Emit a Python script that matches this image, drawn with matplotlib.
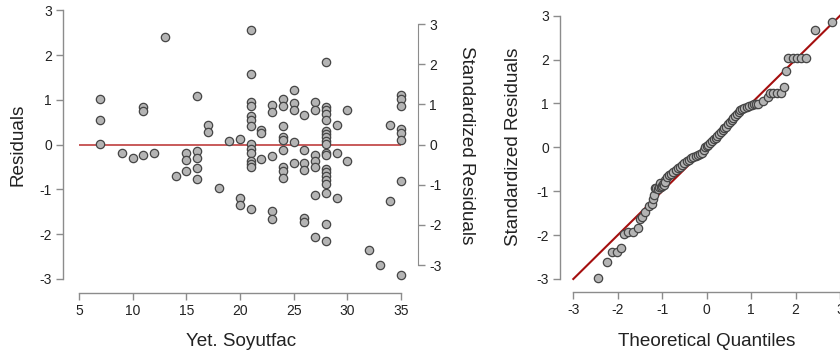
import matplotlib
matplotlib.use("Agg")
import matplotlib.pyplot as plt

plt.rcParams['font.family'] = ['Liberation Sans', 'DejaVu Sans']
plt.rcParams['axes.unicode_minus'] = False

# ---------------- data: residuals vs Yet. Soyutfac ----------------
res_x = ([7]*3 + [9] + [10] + [11]*3 + [12] + [13] + [14] + [15]*3 + [16]*5 + [17]*2 + [18] + [19]
         + [20]*3 + [21]*14 + [22]*3 + [23]*5 + [24]*9 + [25]*5 + [26]*6 + [27]*7 + [28]*20
         + [29]*3 + [30]*2 + [32] + [33] + [34]*2 + [35]*8)
res_y = [1.02, 0.56, 0.02,
         -0.19,
         -0.29,
         0.84, 0.75, -0.24,
         -0.19,
         2.40,
         -0.70,
         -0.19, -0.35, -0.58,
         1.08, -0.14, -0.29, -0.53, -0.76,
         0.44, 0.29,
         -0.97,
         0.08,
         0.13, -1.19, -1.34,
         2.57, 1.57, 0.95, 0.87, 0.63, 0.56, 0.41, 0.02, -0.09, -0.19, -0.36, -0.44, -0.51, -1.44,
         0.32, 0.25, -0.31,
         0.89, 0.74, -0.26, -1.49, -1.66,
         1.02, 0.86, 0.41, 0.17, 0.10, -0.13, -0.50, -0.59, -0.75,
         1.23, 0.92, 0.77, 0.07, -0.40,
         0.66, -0.11, -0.41, -0.57, -1.63, -1.73,
         0.95, 0.78, -0.22, -0.37, -0.51, -1.13, -2.07,
         1.84, 0.84, 0.77, 0.68, 0.54, 0.30, 0.23, 0.16, 0.08, 0.01, -0.19, -0.24, -0.54, -0.61,
         -0.69, -0.78, -0.87, -1.08, -1.78, -2.16,
         0.43, -0.19, -1.19,
         0.78, -0.37,
         -2.36,
         -2.69,
         0.44, -1.26,
         1.10, 1.01, 0.87, 0.34, 0.25, 0.10, -0.82, -2.90]

left_xticks = [5, 10, 15, 20, 25, 30, 35]
left_yticks = [-3, -2, -1, 0, 1, 2, 3]
std_yticks = [-3, -2, -1, 0, 1, 2, 3]

# ---------------- data: Q-Q plot ----------------
qq_theo = [-2.44, -2.25, -2.12, -2.01, -1.92, -1.85, -1.76, -1.65, -1.55, -1.49, -1.46, -1.39,
           -1.29, -1.24, -1.20, -1.18, -1.16, -1.13, -1.10, -1.07, -1.05, -1.03, -1.01, -0.99,
           -0.96, -0.94, -0.93, -0.89, -0.85, -0.80, -0.75, -0.70, -0.65, -0.60, -0.55, -0.50,
           -0.45, -0.40, -0.35, -0.30, -0.25, -0.20, -0.15, -0.11, -0.07, -0.04, 0.00, 0.04,
           0.08, 0.12, 0.16, 0.20, 0.24, 0.28, 0.32, 0.36, 0.40, 0.44, 0.48, 0.52, 0.56, 0.60,
           0.64, 0.68, 0.72, 0.76, 0.80, 0.85, 0.90, 0.95, 1.01, 1.06, 1.11, 1.16, 1.27, 1.39,
           1.43, 1.50, 1.58, 1.67, 1.73, 1.79, 1.84, 1.94, 2.03, 2.12, 2.24, 2.44, 2.82]
qq_sample = [-2.98, -2.61, -2.39, -2.39, -2.29, -1.98, -1.94, -1.92, -1.83, -1.64, -1.58, -1.47,
             -1.34, -1.28, -1.18, -1.09, -0.93, -0.93, -0.95, -0.90, -0.82, -0.91, -0.88, -0.84,
             -0.86, -0.74, -0.80, -0.67, -0.64, -0.61, -0.57, -0.52, -0.48, -0.44, -0.40, -0.36,
             -0.32, -0.28, -0.25, -0.22, -0.19, -0.17, -0.15, -0.13, -0.05, 0.01, 0.03, 0.05,
             0.09, 0.14, 0.18, 0.21, 0.25, 0.30, 0.34, 0.39, 0.43, 0.47, 0.53, 0.58, 0.63, 0.68,
             0.72, 0.76, 0.80, 0.85, 0.87, 0.89, 0.92, 0.94, 0.96, 0.98, 0.99, 0.99, 1.06, 1.14,
             1.24, 1.24, 1.24, 1.24, 1.37, 1.75, 2.04, 2.04, 2.04, 2.04, 2.04, 2.67, 2.86]
qq_ticks = [-3, -2, -1, 0, 1, 2, 3]

# ---------------- figure ----------------
W, H = 840, 358
fig = plt.figure(figsize=(W / 100, H / 100), dpi=100)

def px_axes(x0, x1, y_top, y_bot):
    return fig.add_axes([x0 / W, 1 - y_bot / H, (x1 - x0) / W, (y_bot - y_top) / H])

spine_col = '#8c8c8c'
tick_fs = 10
label_fs = 13.6
pt = 72 / 100  # pixels -> points

def style(ax, left_out, bottom_out):
    for s in ['top', 'right']:
        ax.spines[s].set_visible(False)
    ax.spines['left'].set_position(('outward', left_out * pt))
    ax.spines['bottom'].set_position(('outward', bottom_out * pt))
    for s in ['left', 'bottom']:
        ax.spines[s].set_color(spine_col)
        ax.spines[s].set_linewidth(1.0)
    ax.tick_params(colors=spine_col, labelcolor='#222222', labelsize=tick_fs,
                   length=5, width=1.0, pad=3)
    ax.patch.set_alpha(0)

marker_kw = dict(s=36, facecolor='#b4b4b4', edgecolor='#454545', linewidths=0.9,
                 clip_on=False, zorder=3)

# ---- left panel ----
ax1 = px_axes(79, 401, 10.3, 279)
ax1.set_xlim(5, 35)
ax1.set_ylim(-3, 3)
style(ax1, 16, 14)
ax1.spines['left'].set_bounds(-3, 3)
ax1.spines['bottom'].set_bounds(5, 35)
ax1.set_xticks(left_xticks)
ax1.set_yticks(left_yticks)
ax1.plot([5, 35], [0, 0], color='#c85a5a', lw=1.4, zorder=2)
ax1.scatter(res_x, res_y, **marker_kw)

ax1b = ax1.twinx()
ax1b.set_ylim(-3.345, 3.345)
for s in ['top', 'left', 'bottom']:
    ax1b.spines[s].set_visible(False)
ax1b.spines['right'].set_position(('outward', 17 * pt))
ax1b.spines['right'].set_color(spine_col)
ax1b.spines['right'].set_bounds(-3, 3)
ax1b.set_yticks(std_yticks)
ax1b.tick_params(colors=spine_col, labelcolor='#222222', labelsize=tick_fs,
                 length=5, width=1.0, pad=3)

fig.text(18 / W, 1 - 145 / H, 'Residuals', rotation=90, ha='center', va='center',
         fontsize=label_fs, color='#222222')
fig.text(241 / W, 1 - 341 / H, 'Yet. Soyutfac', ha='center', va='center',
         fontsize=label_fs, color='#222222')
fig.text(466 / W, 1 - 145 / H, 'Standardized Residuals', rotation=270, ha='center',
         va='center', fontsize=label_fs, color='#222222')

# ---- right panel (Q-Q) ----
ax2 = px_axes(573.3, 840, 15.7, 279)
ax2.set_xlim(-3, 3)
ax2.set_ylim(-3, 3)
style(ax2, 13.3, 13.3)
ax2.spines['left'].set_bounds(-3, 3)
ax2.spines['bottom'].set_bounds(-3, 3)
ax2.set_xticks(qq_ticks)
ax2.set_yticks(qq_ticks)
ax2.plot([-3, 3], [-3, 3], color='#a50f0f', lw=1.5, zorder=2, clip_on=False)
ax2.scatter(qq_theo, qq_sample, **marker_kw)

fig.text(513 / W, 1 - 147 / H, 'Standardized Residuals', rotation=90, ha='center',
         va='center', fontsize=label_fs, color='#222222')
fig.text(707 / W, 1 - 341 / H, 'Theoretical Quantiles', ha='center', va='center',
         fontsize=label_fs, color='#222222')

fig.savefig('out.png', dpi=100)
